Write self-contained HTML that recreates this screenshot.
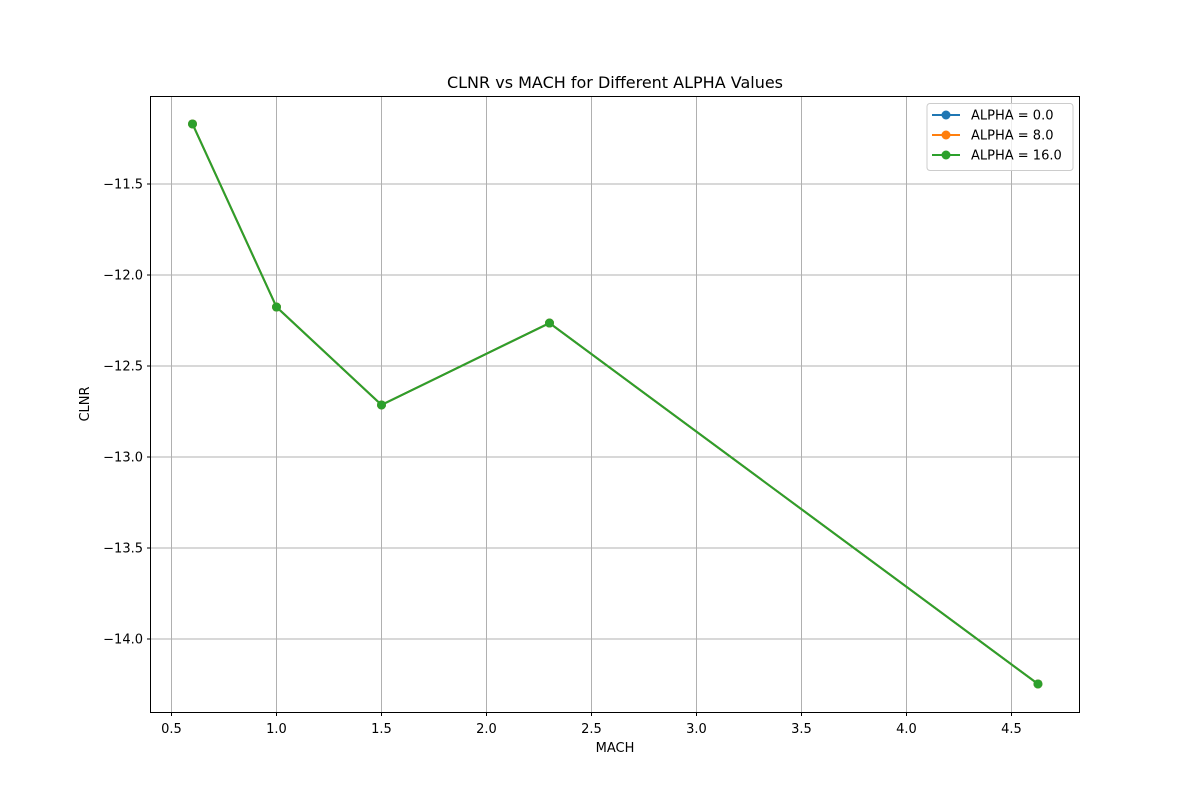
<!DOCTYPE html>
<html><head><meta charset="utf-8"><style>
body{margin:0;background:#fff;}
svg text{font-family:"DejaVu Sans","Liberation Sans",sans-serif;}
</style></head><body>
<svg id="chart" width="1200" height="800" xmlns="http://www.w3.org/2000/svg">
<rect width="1200" height="800" fill="#fff"/>
<g id="grid"></g>
<g id="series"></g>
<rect x="150.5" y="96.5" width="929" height="616" fill="none" stroke="#000" stroke-width="1"/>
<g id="xticks" font-size="13"></g>
<g id="yticks" font-size="13"></g>
<text x="615" y="88" text-anchor="middle" font-size="16">CLNR vs MACH for Different ALPHA Values</text>
<text x="615" y="752" text-anchor="middle" font-size="13">MACH</text>
<text x="89" y="404" text-anchor="middle" font-size="13" transform="rotate(-90 89 404)">CLNR</text>
<g id="legend">
<rect x="927" y="103.5" width="146" height="67" rx="3" fill="#fff" fill-opacity="0.8" stroke="#ccc"/>
</g>
</svg>
<script>
const mach = [0.6, 1.0, 1.5, 2.3, 4.626];
const clnrAlpha0 = [-11.17, -12.176, -12.714, -12.264, -14.247];
const clnrAlpha8 = [-11.17, -12.176, -12.714, -12.264, -14.247];
const clnrAlpha16 = [-11.17, -12.176, -12.714, -12.264, -14.247];
const seriesLabels = ["ALPHA = 0.0", "ALPHA = 8.0", "ALPHA = 16.0"];
const xTicks = [0.5, 1.0, 1.5, 2.0, 2.5, 3.0, 3.5, 4.0, 4.5];
const yTicks = [-11.5, -12.0, -12.5, -13.0, -13.5, -14.0];

const NS = "http://www.w3.org/2000/svg";
function xs(v){return 171.5 + (v-0.5)*210;}
function ys(v){return 184 + (-11.5 - v)*182;}
function mk(tag, attrs, parent){const e=document.createElementNS(NS,tag);for(const k in attrs)e.setAttribute(k,attrs[k]);parent.appendChild(e);return e;}
const grid=document.getElementById('grid'), xt=document.getElementById('xticks'), yt=document.getElementById('yticks');
xTicks.forEach(t=>{
  const x=xs(t);
  const g=mk('line',{x1:x,x2:x,y1:96.5,y2:712.5,stroke:'#b0b0b0','stroke-width':1},grid);
  
  
  mk('line',{x1:x,x2:x,y1:712.5,y2:716,stroke:'#000'},xt);
  const tx=mk('text',{x:x,y:733,'text-anchor':'middle'},xt);
  tx.textContent=t.toFixed(1);
  
  
});
yTicks.forEach(t=>{
  const y=ys(t);
  const g=mk('line',{x1:150.5,x2:1079.5,y1:y,y2:y,stroke:'#b0b0b0','stroke-width':1},grid);
  
  
  mk('line',{x1:147,x2:150.5,y1:y,y2:y,stroke:'#000'},yt);
  const tx=mk('text',{x:143,y:y+4.5,'text-anchor':'end'},yt);
  tx.textContent='\u2212'+Math.abs(t).toFixed(1);
  
  
});
const colors=['#1f77b4','#ff7f0e','#2ca02c'];
const allSeries=[clnrAlpha0, clnrAlpha8, clnrAlpha16];
const sg=document.getElementById('series');
allSeries.forEach((vals,i)=>{
  const pts=mach.map((m,j)=>xs(m)+','+ys(vals[j])).join(' ');
  const pl=mk('polyline',{points:pts,fill:'none',stroke:colors[i],'stroke-width':2},sg);
  
  
  mach.forEach((m,j)=>{
    const c=mk('circle',{cx:xs(m),cy:ys(vals[j]),r:4.5,fill:colors[i]},sg);
    
    
  });
});
const lg=document.getElementById('legend');
seriesLabels.forEach((l,i)=>{
  const y=115+i*20;
  mk('line',{x1:932,x2:960,y1:y,y2:y,stroke:colors[i],'stroke-width':2},lg);
  mk('circle',{cx:946,cy:y,r:4.5,fill:colors[i]},lg);
  const t=mk('text',{x:971,y:y+4.5,'font-size':13},lg);
  t.textContent=l;
  
  
});
</script>
</body></html>
